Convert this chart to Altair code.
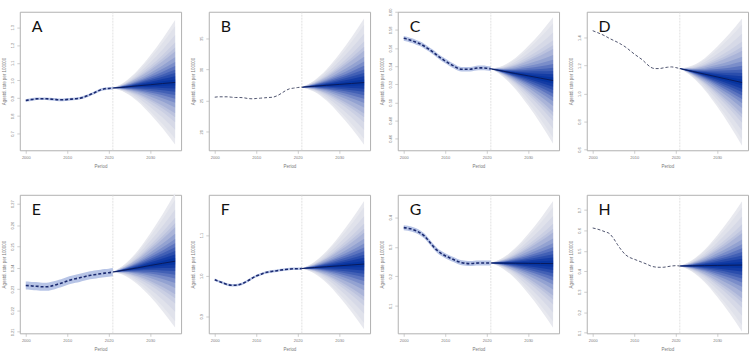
import altair as alt
import pandas as pd
from statistics import NormalDist

# ---------------------------------------------------------------
# Age-standardised rate per 100 000: observed 2000-2021 and
# projected 2021-2036 with a predictive fan (outer = 99% interval)
# ---------------------------------------------------------------
PANELS = ["A", "B", "C", "D", "E", "F", "G", "H"]
OBS_YEARS = list(range(2000, 2022))
PROJ_YEARS = [2021, 2024, 2027, 2030, 2033, 2036]
LAST_OBS = 2021

obs_A = [0.887, 0.891, 0.895, 0.897, 0.897, 0.897, 0.895, 0.893, 0.891, 0.891, 0.893,
         0.895, 0.897, 0.900, 0.906, 0.915, 0.925, 0.936, 0.947, 0.953, 0.955, 0.957]
obs_B = [25.55, 25.61, 25.61, 25.61, 25.55, 25.50, 25.50, 25.45, 25.34, 25.29, 25.34,
         25.39, 25.45, 25.50, 25.55, 25.77, 26.14, 26.57, 26.89, 27.00, 27.10, 27.16]
obs_C = [0.5708, 0.5697, 0.5682, 0.5664, 0.5646, 0.5620, 0.5590, 0.5557, 0.5521, 0.5487, 0.5458,
         0.5429, 0.5403, 0.5377, 0.5366, 0.5366, 0.5366, 0.5374, 0.5381, 0.5381, 0.5377, 0.5370]
obs_D = [1.4499, 1.4380, 1.4261, 1.4119, 1.3953, 1.3810, 1.3668, 1.3501, 1.3312, 1.3074, 1.2837,
         1.2623, 1.2409, 1.2125, 1.1887, 1.1792, 1.1792, 1.1840, 1.1887, 1.1911, 1.1864, 1.1792]
obs_E = [0.2317, 0.2316, 0.2314, 0.2313, 0.2311, 0.2311, 0.2314, 0.2319, 0.2325, 0.2331, 0.2338,
         0.2344, 0.2349, 0.2353, 0.2358, 0.2363, 0.2366, 0.2369, 0.2372, 0.2375, 0.2377, 0.2380]
obs_F = [0.9899, 0.9860, 0.9822, 0.9783, 0.9767, 0.9767, 0.9783, 0.9822, 0.9876, 0.9938, 0.9992,
         1.0031, 1.0070, 1.0093, 1.0109, 1.0124, 1.0140, 1.0155, 1.0163, 1.0171, 1.0171, 1.0178]
obs_G = [0.3650, 0.3629, 0.3597, 0.3544, 0.3470, 0.3364, 0.3205, 0.3035, 0.2887, 0.2780, 0.2696,
         0.2632, 0.2568, 0.2505, 0.2462, 0.2441, 0.2431, 0.2441, 0.2452, 0.2452, 0.2452, 0.2452]
obs_H = [0.6118, 0.6071, 0.6008, 0.5929, 0.5850, 0.5614, 0.5299, 0.5016, 0.4795, 0.4669, 0.4591,
         0.4512, 0.4433, 0.4354, 0.4260, 0.4213, 0.4197, 0.4197, 0.4228, 0.4260, 0.4276, 0.4260]

# projected mean, outer upper and outer lower bound at PROJ_YEARS
mean_A = [0.957, 0.963, 0.970, 0.976, 0.983, 0.989]
upper_A = [0.957, 0.995, 1.058, 1.141, 1.236, 1.341]
lower_A = [0.957, 0.931, 0.882, 0.811, 0.730, 0.638]
mean_B = [27.16, 27.31, 27.46, 27.60, 27.75, 27.90]
upper_B = [27.16, 28.24, 30.04, 32.44, 35.17, 38.20]
lower_B = [27.16, 26.41, 24.96, 22.90, 20.55, 17.90]
mean_C = [0.5370, 0.5344, 0.5318, 0.5293, 0.5267, 0.5241]
upper_C = [0.5370, 0.5407, 0.5493, 0.5622, 0.5771, 0.5941]
lower_C = [0.5370, 0.5281, 0.5143, 0.4964, 0.4763, 0.4541]
mean_D = [1.1792, 1.1593, 1.1393, 1.1194, 1.0994, 1.0795]
upper_D = [1.1792, 1.2003, 1.2538, 1.3347, 1.4292, 1.5377]
lower_D = [1.1792, 1.1187, 1.0265, 0.9074, 0.7747, 0.6285]
mean_E = [0.2380, 0.2390, 0.2400, 0.2411, 0.2421, 0.2431]
upper_E = [0.2380, 0.2419, 0.2480, 0.2561, 0.2651, 0.2750]
lower_E = [0.2380, 0.2362, 0.2322, 0.2265, 0.2197, 0.2120]
mean_F = [1.0178, 1.0200, 1.0222, 1.0243, 1.0265, 1.0287]
upper_F = [1.0178, 1.0340, 1.0610, 1.0972, 1.1381, 1.1837]
lower_F = [1.0178, 1.0056, 0.9821, 0.9489, 0.9109, 0.8682]
mean_G = [0.2452, 0.2448, 0.2444, 0.2439, 0.2435, 0.2431]
upper_G = [0.2452, 0.2639, 0.2974, 0.3435, 0.3961, 0.4551]
lower_G = [0.2452, 0.2252, 0.1900, 0.1417, 0.0870, 0.0257]
mean_H = [0.4260, 0.4269, 0.4279, 0.4288, 0.4298, 0.4307]
upper_H = [0.4260, 0.4550, 0.5059, 0.5753, 0.6543, 0.7425]
lower_H = [0.4260, 0.3976, 0.3464, 0.2756, 0.1951, 0.1047]

# half-width of the fitted credible band over the observed years
obs_band = {"A": 0.0075, "B": 0.0, "C": 0.0026, "D": 0.0, "E": 0.0019,
            "F": 0.003, "G": 0.0085, "H": 0.0}

y_domains = {"A": [0.606, 1.388], "B": [17.02, 39.27], "C": [0.4469, 0.6002],
             "D": [0.5953, 1.5852], "E": [0.2093, 0.2742], "F": [0.8581, 1.1992],
             "G": [0.0066, 0.4764], "H": [0.0969, 0.7740]}
y_ticks = {"A": [0.7, 0.8, 0.9, 1.0, 1.1, 1.2, 1.3], "B": [20, 25, 30, 35],
           "C": [0.46, 0.48, 0.50, 0.52, 0.54, 0.56, 0.58, 0.60],
           "D": [0.6, 0.8, 1.0, 1.2, 1.4], "E": [0.21, 0.22, 0.23, 0.24, 0.25, 0.26, 0.27],
           "F": [0.9, 1.0, 1.1], "G": [0.1, 0.2, 0.3, 0.4],
           "H": [0.1, 0.2, 0.3, 0.4, 0.5, 0.6, 0.7]}
y_formats = {"A": ".1f", "B": "d", "C": ".2f", "D": ".1f", "E": ".2f",
             "F": ".1f", "G": ".1f", "H": ".1f"}

series = {
    "A": (obs_A, mean_A, upper_A, lower_A), "B": (obs_B, mean_B, upper_B, lower_B),
    "C": (obs_C, mean_C, upper_C, lower_C), "D": (obs_D, mean_D, upper_D, lower_D),
    "E": (obs_E, mean_E, upper_E, lower_E), "F": (obs_F, mean_F, upper_F, lower_F),
    "G": (obs_G, mean_G, upper_G, lower_G), "H": (obs_H, mean_H, upper_H, lower_H),
}

# fan quantile levels (lower tail); the outermost equals the 99% bound
FAN_PROBS = [0.005, 0.01, 0.025, 0.05, 0.075, 0.1, 0.15, 0.2, 0.25, 0.3, 0.35, 0.4, 0.45]
FAN_COLORS = ["#e8e9ef", "#e0e2eb", "#d6d9e7", "#cacfe3", "#bcc3de", "#aab4d8",
              "#93a2d1", "#7a8dc9", "#5d75bf", "#4260b5", "#2a4dac", "#143ca4", "#0634a0"]

X_DOMAIN = [1998.56, 2037.44]
PW, PH = 163, 140
GREY = "#7a7a7a"
TICK = "#b8b8b8"


def fan_frame(mean, upper, lower):
    """Nested central intervals, outermost first."""
    z_out = NormalDist().inv_cdf(FAN_PROBS[0])
    rows = []
    for j, prob in enumerate(FAN_PROBS):
        r = NormalDist().inv_cdf(prob) / z_out
        for yr, m, u, lo in zip(PROJ_YEARS, mean, upper, lower):
            rows.append({"year": yr, "level": j,
                         "y": m - r * (m - lo), "y2": m + r * (u - m)})
    return pd.DataFrame(rows)


def panel(p):
    obs, mean, upper, lower = series[p]
    x = alt.X("year:Q", scale=alt.Scale(domain=X_DOMAIN, nice=False, zero=False),
              axis=alt.Axis(values=[2000, 2010, 2020, 2030], title="Period", format="d",
                            labelPadding=2, titlePadding=4))
    yscale = alt.Scale(domain=y_domains[p], nice=False, zero=False)
    yaxis = alt.Axis(values=y_ticks[p], format=y_formats[p],
                     title="Agestd. rate per 100000", labelAngle=270,
                     labelAlign="center", labelBaseline="bottom",
                     labelPadding=2, titlePadding=4)
    y = alt.Y("y:Q", scale=yscale, axis=yaxis)

    fan_df = fan_frame(mean, upper, lower)
    fan_layers = [
        alt.Chart(fan_df[fan_df.level == j]).mark_area(
            interpolate="monotone", color=FAN_COLORS[j]
        ).encode(x=x, y=y, y2="y2:Q")
        for j in range(len(FAN_PROBS))
    ]

    obs_df = pd.DataFrame({"year": OBS_YEARS, "y": obs,
                           "y2": [v - obs_band[p] for v in obs],
                           "y3": [v + obs_band[p] for v in obs]})
    band = alt.Chart(obs_df).mark_area(color="#9fb0dd", opacity=0.75,
                                       interpolate="monotone").encode(
        x=x, y=alt.Y("y2:Q", scale=yscale, axis=yaxis), y2="y3:Q")
    thick = obs_band[p] > 0
    obs_line = alt.Chart(obs_df).mark_line(
        color="#1b2a70" if thick else "#3a3f5c",
        strokeWidth=1.6 if thick else 0.9,
        strokeDash=[3, 2], interpolate="monotone").encode(x=x, y=y)

    mean_df = pd.DataFrame({"year": PROJ_YEARS, "y": mean})
    mean_line = alt.Chart(mean_df).mark_line(color="#0a1a5a", strokeWidth=1,
                                             interpolate="monotone").encode(x=x, y=y)

    vline = alt.Chart(pd.DataFrame({"year": [LAST_OBS]})).mark_rule(
        color="#d4d4d4", strokeWidth=0.7, strokeDash=[2, 1]).encode(x=x)

    letter = alt.Chart(pd.DataFrame({"label": [p]})).mark_text(
        align="left", baseline="top", fontSize=16, font="Lato", fontWeight="normal",
        color="#111111").encode(text="label:N", x=alt.value(12), y=alt.value(7))

    return alt.layer(vline, *fan_layers, band, obs_line, mean_line, letter).properties(
        width=PW, height=PH)


top = alt.hconcat(*[panel(p) for p in PANELS[:4]], spacing=8)
bottom = alt.hconcat(*[panel(p) for p in PANELS[4:]], spacing=8)

chart = alt.vconcat(top, bottom, spacing=24).properties(
    padding={"left": 1, "top": 5, "right": 1, "bottom": 1},
    background="white"
).configure_view(
    stroke="#b0b0b0", strokeWidth=1
).configure_axis(
    domain=False, grid=False, tickColor=TICK, tickSize=3, tickWidth=0.7,
    labelColor=GREY, labelFontSize=4, labelFont="Liberation Sans",
    titleColor=GREY, titleFontSize=4.5, titleFont="Liberation Sans",
    titleFontWeight="normal"
)

chart.save("out.html", embed_options={"renderer": "svg", "actions": False})
